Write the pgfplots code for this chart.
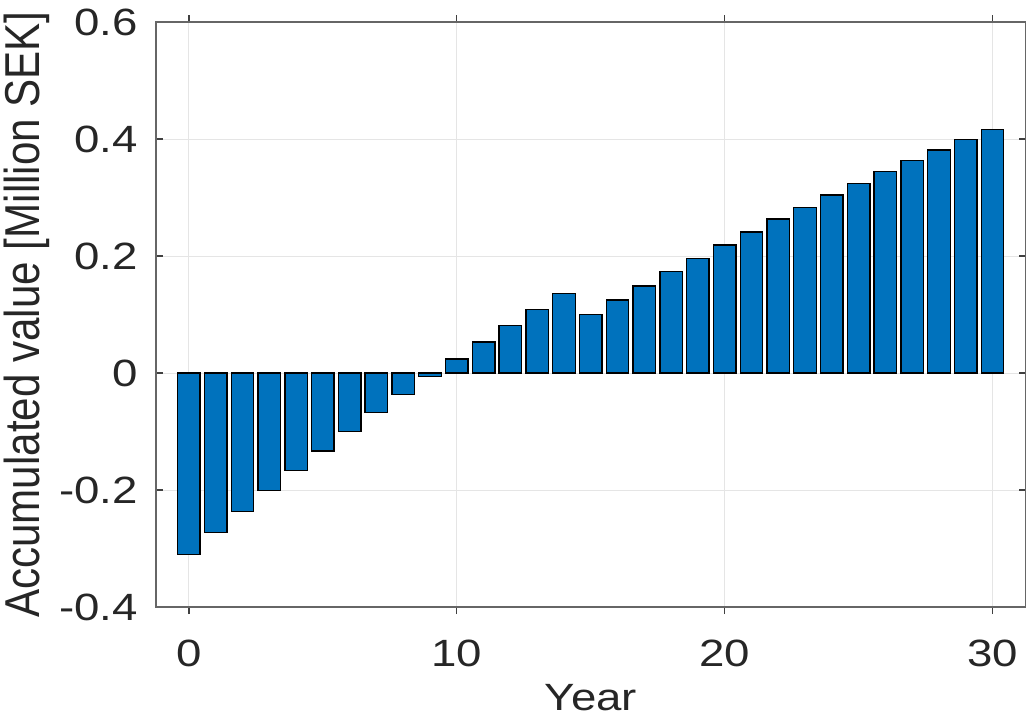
\documentclass[border=0pt]{standalone}
\usepackage{fontspec}
\setmainfont[FakeStretch=1.2]{Liberation Sans}
\newfontfamily\ylabfont[FakeStretch=0.86]{Liberation Sans}
\usepackage{pgfplots}
\pgfplotsset{compat=1.18}
\definecolor{barblue}{RGB}{0,114,189}

\begin{document}
\begin{tikzpicture}
\begin{axis}[
  scale only axis,
  width=435pt, height=292.5pt,
  xmin=-1.23, xmax=31.25,
  ymin=-0.4, ymax=0.6,
  xtick={0,10,20,30},
  xticklabels={0,10,20,30},
  ytick={-0.4,-0.2,0,0.2,0.4,0.6},
  yticklabels={-0.4,-0.2,0,0.2,0.4,0.6},
  /pgf/number format/assume math mode=true,
  tick align=inside,
  major tick length=3.5pt,
  tick style={black!75, line width=0.6pt},
  axis line style={black!60, line width=0.8pt},
  grid=major,
  major grid style={black!10, line width=0.5pt},
  ticklabel style={font=\fontsize{19}{22}\selectfont, text=black!85},
  xticklabel style={anchor=north, inner sep=0pt, yshift=-13pt},
  yticklabel style={anchor=east, inner sep=0pt, xshift=-9pt},
  xlabel={Year},
  ylabel={Accumulated value [Million SEK]},
  xlabel style={font=\fontsize{19}{22}\selectfont, text=black!85,
    at={(axis description cs:0.5,0)}, anchor=base, inner sep=0pt, yshift=-51.5pt},
  % the label is already turned by 90 degrees, so yshift moves it to the left
  ylabel style={font=\ylabfont\fontsize{24.5}{28}\selectfont, text=black!85,
    at={(axis description cs:0,0.5)}, anchor=south, inner sep=0pt, yshift=53pt},
  ybar,
  bar width=0.84,
]
\addplot[fill=barblue, draw=black, line width=0.7pt] coordinates {
  (0,-0.310) (1,-0.273) (2,-0.237) (3,-0.201) (4,-0.167) (5,-0.133)
  (6,-0.100) (7,-0.068) (8,-0.037) (9,-0.006) (10,0.024) (11,0.053)
  (12,0.081) (13,0.109) (14,0.136) (15,0.100) (16,0.125) (17,0.149)
  (18,0.173) (19,0.196) (20,0.219) (21,0.241) (22,0.263) (23,0.283)
  (24,0.304) (25,0.324) (26,0.344) (27,0.363) (28,0.381) (29,0.399)
  (30,0.416)
};
\end{axis}
\pgfresetboundingbox
\useasboundingbox (-78pt,-57.5pt) rectangle (435pt,303.5pt);
\end{tikzpicture}
\end{document}
